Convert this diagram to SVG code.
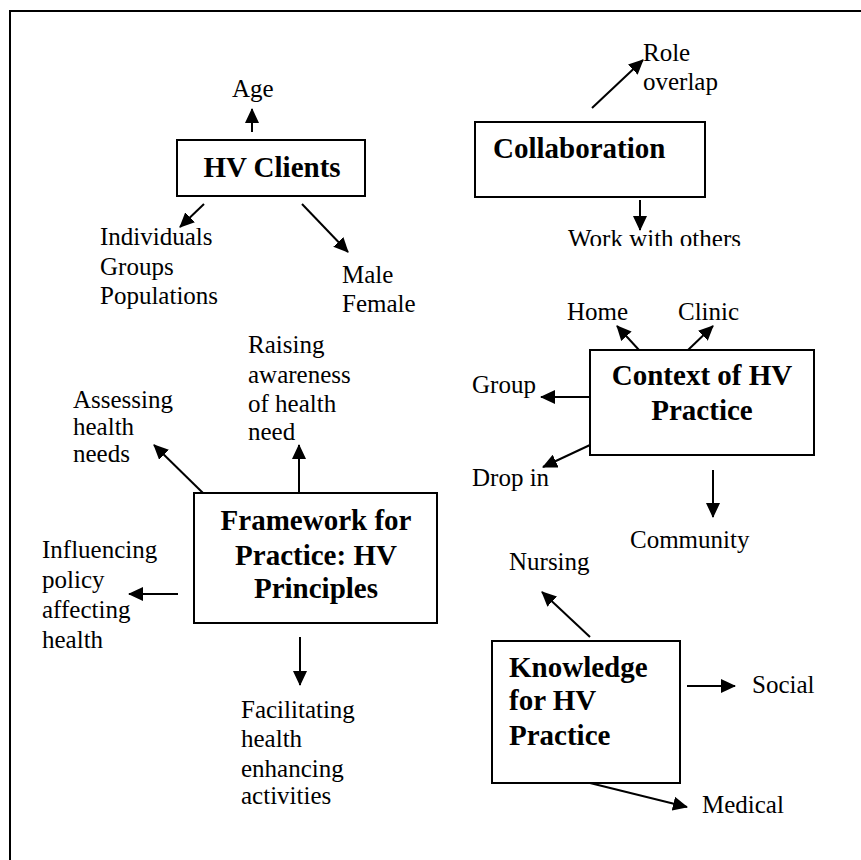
<svg xmlns="http://www.w3.org/2000/svg" width="861" height="860" viewBox="0 0 861 860">
<defs>
<style>
.box{fill:#fff;stroke:#000;stroke-width:2}
.t{font-family:"Liberation Serif","Times New Roman",serif;font-size:25px;fill:#000}
.b{font-family:"Liberation Serif","Times New Roman",serif;font-size:29px;font-weight:bold;fill:#000}
.c{text-anchor:middle}
.ln{stroke:#000;stroke-width:2;fill:none;marker-end:url(#ah)}
</style>
<marker id="ah" markerUnits="userSpaceOnUse" markerWidth="15" markerHeight="14" refX="14" refY="7" orient="auto">
<path d="M0,0 L15,7 L0,14 z" fill="#000"/>
</marker>
<clipPath id="clipWork"><rect x="0" y="0" width="861" height="246"/></clipPath>
</defs>
<rect width="861" height="860" fill="#fff"/>
<path d="M10,860 V11 H861" fill="none" stroke="#000" stroke-width="2"/>

<g id="connectors">
<line class="ln" x1="252" y1="132" x2="252" y2="109"/>
<line class="ln" x1="204" y1="204" x2="180" y2="227"/>
<line class="ln" x1="302" y1="204" x2="348" y2="252"/>
<line class="ln" x1="592" y1="108" x2="643" y2="60"/>
<line class="ln" x1="640" y1="200" x2="640" y2="230"/>
<line class="ln" x1="639" y1="350" x2="617" y2="326"/>
<line class="ln" x1="688" y1="350" x2="713" y2="326"/>
<line class="ln" x1="590" y1="397" x2="541" y2="397"/>
<line class="ln" x1="590" y1="445" x2="543" y2="467"/>
<line class="ln" x1="713" y1="470" x2="713" y2="517"/>
<line class="ln" x1="203" y1="493" x2="154" y2="445"/>
<line class="ln" x1="299" y1="493" x2="299" y2="445"/>
<line class="ln" x1="178" y1="594" x2="129" y2="594"/>
<line class="ln" x1="300" y1="637" x2="300" y2="685"/>
<line class="ln" x1="590" y1="637" x2="542" y2="592"/>
<line class="ln" x1="687" y1="686" x2="735" y2="686"/>
<line class="ln" x1="590" y1="783" x2="687" y2="807"/>
</g>

<g id="hv-clients">
<rect class="box" x="177" y="140" width="188" height="56"/>
<text class="b c" x="272" y="177">HV Clients</text>
</g>
<g id="age"><text class="t" x="232" y="97">Age</text></g>
<g id="individuals">
<text class="t" x="100" y="245">Individuals</text>
<text class="t" x="100" y="275">Groups</text>
<text class="t" x="100" y="304">Populations</text>
</g>
<g id="male-female">
<text class="t" x="342" y="283">Male</text>
<text class="t" x="342" y="312">Female</text>
</g>

<g id="collaboration">
<rect class="box" x="475" y="122" width="230" height="75"/>
<text class="b" x="493" y="158">Collaboration</text>
</g>
<g id="role-overlap">
<text class="t" x="643" y="61">Role</text>
<text class="t" x="643" y="90">overlap</text>
</g>
<g id="work-with-others">
<text class="t" x="568" y="247" clip-path="url(#clipWork)">Work with others</text>
</g>

<g id="context">
<rect class="box" x="590" y="350" width="224" height="105"/>
<text class="b c" x="702" y="385">Context of HV</text>
<text class="b c" x="702" y="420">Practice</text>
</g>
<g id="home"><text class="t" x="567" y="320">Home</text></g>
<g id="clinic"><text class="t" x="678" y="320">Clinic</text></g>
<g id="group"><text class="t" x="472" y="393">Group</text></g>
<g id="drop-in"><text class="t" x="472" y="486">Drop in</text></g>
<g id="community"><text class="t" x="630" y="548">Community</text></g>

<g id="framework">
<rect class="box" x="194" y="493" width="243" height="130"/>
<text class="b c" x="316" y="530">Framework for</text>
<text class="b c" x="316" y="565">Practice: HV</text>
<text class="b c" x="316" y="598">Principles</text>
</g>
<g id="assessing">
<text class="t" x="73" y="408">Assessing</text>
<text class="t" x="73" y="435">health</text>
<text class="t" x="73" y="462">needs</text>
</g>
<g id="raising">
<text class="t" x="248" y="353">Raising</text>
<text class="t" x="248" y="383">awareness</text>
<text class="t" x="248" y="412">of health</text>
<text class="t" x="248" y="440">need</text>
</g>
<g id="influencing">
<text class="t" x="42" y="558">Influencing</text>
<text class="t" x="42" y="588">policy</text>
<text class="t" x="42" y="618">affecting</text>
<text class="t" x="42" y="648">health</text>
</g>
<g id="facilitating">
<text class="t" x="241" y="718">Facilitating</text>
<text class="t" x="241" y="747">health</text>
<text class="t" x="241" y="777">enhancing</text>
<text class="t" x="241" y="804">activities</text>
</g>

<g id="knowledge">
<rect class="box" x="492" y="641" width="188" height="142"/>
<text class="b" x="509" y="677">Knowledge</text>
<text class="b" x="509" y="710">for HV</text>
<text class="b" x="509" y="745">Practice</text>
</g>
<g id="nursing"><text class="t" x="509" y="570">Nursing</text></g>
<g id="social"><text class="t" x="752" y="693">Social</text></g>
<g id="medical"><text class="t" x="702" y="813">Medical</text></g>
</svg>
